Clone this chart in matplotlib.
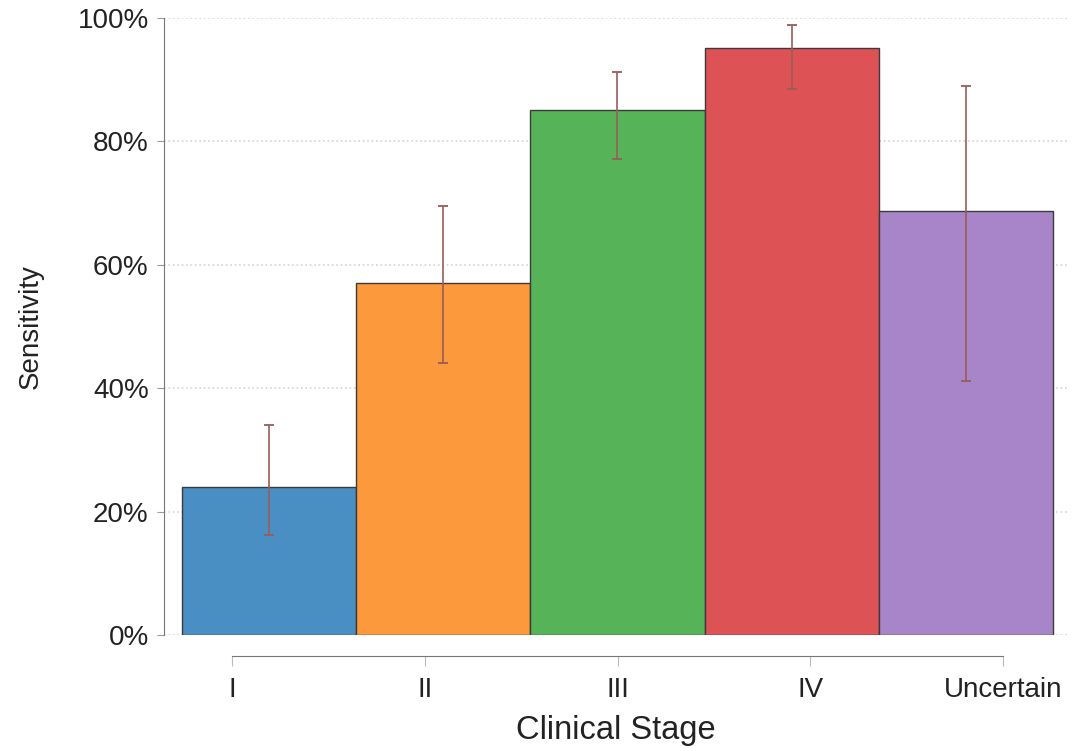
import numpy as np
import matplotlib
matplotlib.use('Agg')
import matplotlib.pyplot as plt
from matplotlib.ticker import PercentFormatter

stages = ['I', 'II', 'III', 'IV', 'Uncertain']
sensitivity = [24.0, 57.0, 85.1, 95.2, 68.7]
ci_low = [16.2, 44.1, 77.1, 88.5, 41.2]
ci_high = [34.0, 69.5, 91.2, 98.8, 89.0]
colors = ['#4a8fc4', '#fb993c', '#57b358', '#dd5254', '#a885c8']

plt.rcParams['font.family'] = ['Liberation Sans', 'DejaVu Sans']

fig = plt.figure(figsize=(10.76, 7.51), dpi=100)
ax = fig.add_axes([0.1524, 0.1545, 0.8392, 0.8215])

x = np.arange(len(stages))
err = [np.array(sensitivity) - np.array(ci_low), np.array(ci_high) - np.array(sensitivity)]

ax.bar(x, sensitivity, width=1.0, color=colors, edgecolor='#3a3a3a', linewidth=1.0, zorder=2)
ax.errorbar(x, sensitivity, yerr=err, fmt='none', ecolor='#9a5c58', elinewidth=1.2,
            capsize=3.5, capthick=1.3, zorder=3)

ax.set_xlim(-0.603, 4.58)
ax.set_ylim(0, 100)
ax.yaxis.set_major_formatter(PercentFormatter(decimals=0))
ax.set_yticks([0, 20, 40, 60, 80, 100])
ax.yaxis.grid(True, linestyle=':', color='#d4d4d4', linewidth=1.2, zorder=0)

# category ticks sit on their own evenly spaced scale under the bars
tick_pos = np.linspace(-0.212, 4.213, len(stages))
ax.set_xticks(tick_pos)
ax.set_xticklabels(stages)

for s in ['top', 'right']:
    ax.spines[s].set_visible(False)
ax.spines['left'].set_color('#777777')
ax.spines['bottom'].set_color('#777777')
ax.spines['left'].set_bounds(0, 100)
ax.spines['bottom'].set_position(('outward', 15))
ax.spines['bottom'].set_bounds(tick_pos[0], tick_pos[-1])

ax.tick_params(axis='y', length=5, color='#999999', labelsize=20, labelcolor='#222222', pad=6)
ax.tick_params(axis='x', length=7, color='#bbbbbb', labelsize=20, labelcolor='#222222', pad=8)

ax.set_ylabel('Sensitivity', fontsize=20, color='#222222', labelpad=24)
ax.set_xlabel('Clinical Stage', fontsize=23.5, color='#222222', labelpad=9)

fig.savefig('out.png', dpi=100)
